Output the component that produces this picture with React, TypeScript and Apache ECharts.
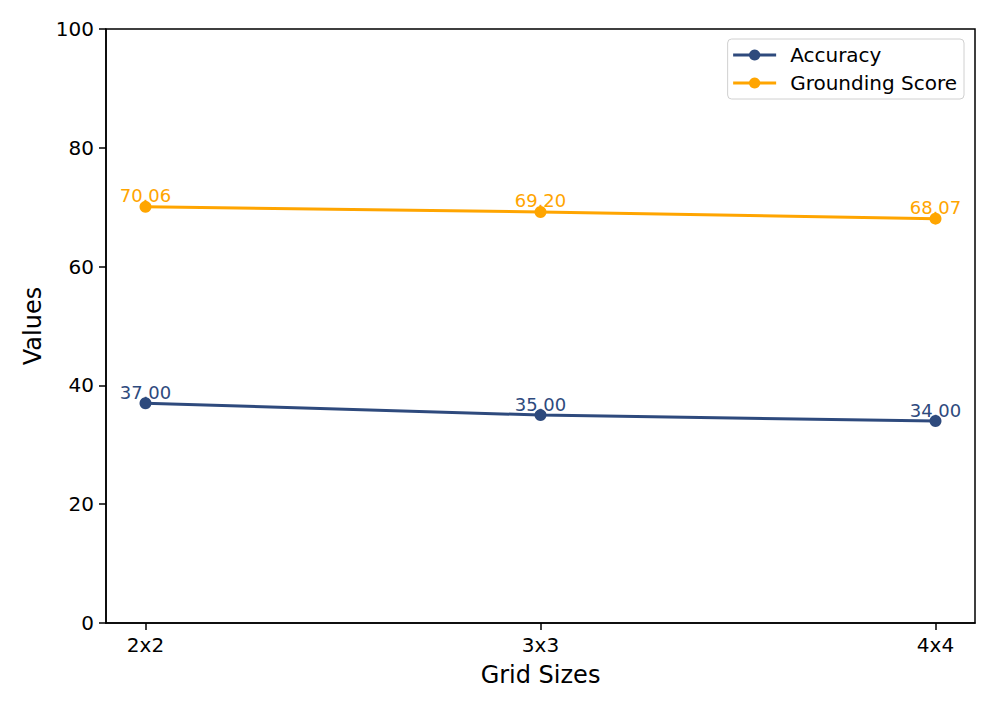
import React, { useEffect, useRef } from "react";
import * as echarts from "echarts";

const categories = ["2x2", "3x3", "4x4"];
const accuracy = [37.0, 35.0, 34.0];
const grounding = [70.06, 69.2, 68.07];
const yTicks = [0, 20, 40, 60, 80, 100];

const NAVY = "#2E4A7D";
const ORANGE = "#FFA500";
const FONT = "DejaVu Sans";

export default function App() {
  const ref = useRef<HTMLDivElement>(null);
  useEffect(() => {
    const chart = echarts.init(ref.current!, null, { renderer: "svg" });
    const mk = (name: string, vals: number[], color: string) => ({
      name,
      type: "line",
      data: vals.map((v, i) => [i, v]),
      symbol: "circle",
      symbolSize: 12,
      lineStyle: { color, width: 3 },
      itemStyle: { color },
      label: {
        show: true,
        position: "top",
        distance: 0,
        offset: [0, 4],
        color,
        fontFamily: FONT,
        fontSize: 18,
        formatter: (p: any) => p.value[1].toFixed(2),
      },
    });
    chart.setOption({
      animation: false,
      backgroundColor: "#fff",
      textStyle: { fontFamily: FONT },
      grid: {
        left: 106,
        right: 21,
        top: 29,
        bottom: 89,
        show: true,
        borderColor: "#000",
        borderWidth: 1.5,
        backgroundColor: "transparent",
      },
      legend: {
        orient: "vertical",
        right: 32,
        top: 39,
        padding: [6, 7, 6, 4],
        itemGap: 8,
        itemWidth: 43,
        itemHeight: 14,
        lineStyle: { width: 3 },
        backgroundColor: "#fff",
        borderColor: "#d0d0d0",
        borderWidth: 1,
        borderRadius: 4,
        textStyle: {
          fontFamily: FONT,
          fontSize: 20,
          color: "#000",
          padding: [0, 0, 0, 9],
        },
        data: ["Accuracy", "Grounding Score"],
      },
      xAxis: {
        type: "value",
        min: -0.1,
        max: 2.1,
        name: "Grid Sizes",
        nameLocation: "middle",
        nameGap: 40,
        nameTextStyle: { fontFamily: FONT, fontSize: 24, color: "#000" },
        splitLine: { show: false },
        axisLine: { show: true, onZero: false, lineStyle: { color: "#000", width: 1.5 } },
        axisTick: {
          show: true,
          inside: false,
          length: 7,
          customValues: [0, 1, 2],
          lineStyle: { color: "#000", width: 1.5 },
        },
        axisLabel: {
          customValues: [0, 1, 2],
          margin: 12,
          fontFamily: FONT,
          fontSize: 20,
          color: "#000",
          formatter: (v: number) => categories[Math.round(v)] ?? "",
        },
      },
      yAxis: {
        type: "value",
        min: 0,
        max: 100,
        interval: 20,
        name: "Values",
        nameLocation: "middle",
        nameGap: 61,
        nameTextStyle: { fontFamily: FONT, fontSize: 24, color: "#000" },
        splitLine: { show: false },
        axisLine: { show: true, onZero: false, lineStyle: { color: "#000", width: 1.5 } },
        axisTick: {
          show: true,
          length: 7,
          customValues: yTicks,
          lineStyle: { color: "#000", width: 1.5 },
        },
        axisLabel: {
          margin: 12,
          fontFamily: FONT,
          fontSize: 20,
          color: "#000",
        },
      },
      series: [mk("Accuracy", accuracy, NAVY), mk("Grounding Score", grounding, ORANGE)],
    });
    return () => chart.dispose();
  }, []);
  return (
    <div
      ref={ref}
      style={{ position: "fixed", left: 0, top: 0, width: 996, height: 712 }}
    />
  );
}
